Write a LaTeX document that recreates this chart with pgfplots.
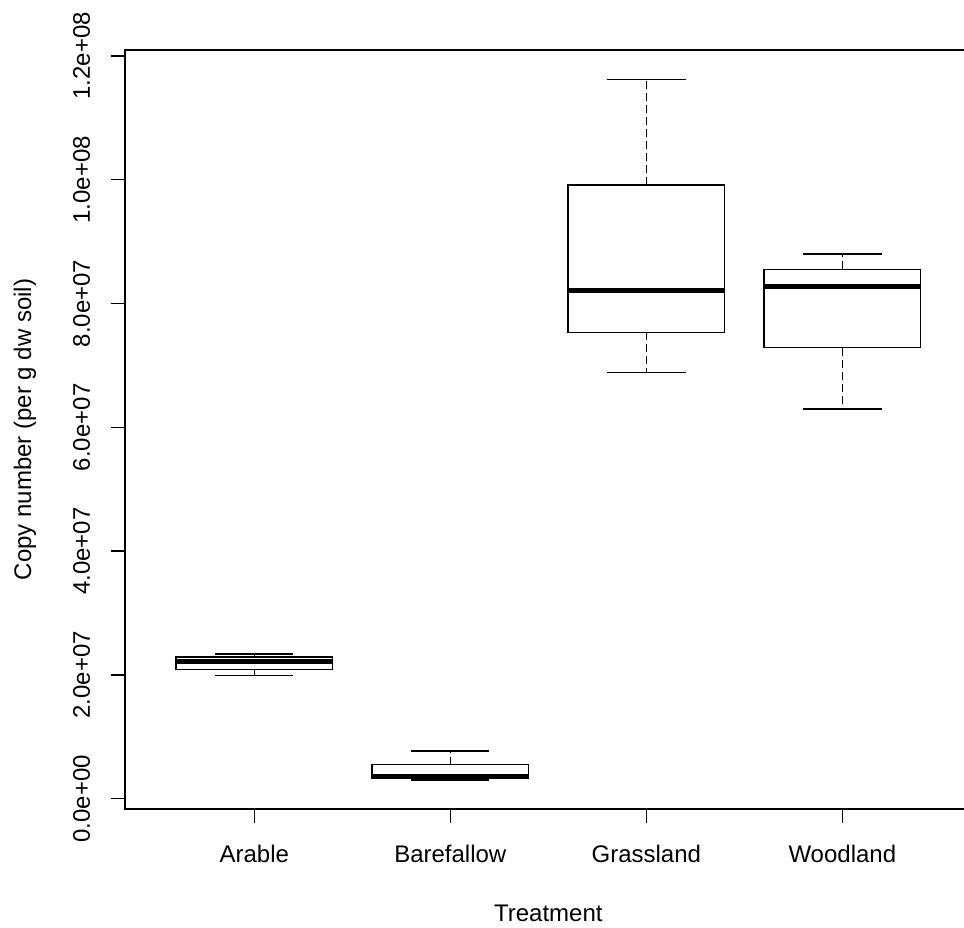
\documentclass[border=0pt]{standalone}
\usepackage{pgfplots}
\pgfplotsset{compat=1.18}
\usepgfplotslibrary{statistics}
\usepackage{fontspec}
\setmainfont{Liberation Sans}
\begin{document}
\begin{tikzpicture}[font=\fontsize{12}{14}\selectfont]
\useasboundingbox (-62.45pt,-59pt) rectangle (419.55pt,404.5pt);
\begin{axis}[
  at={(0,0)}, anchor=south west,
  scale only axis,
  width=423.4pt, height=379.5pt,
  xmin=0.34, xmax=4.66,
  ymin=-0.1664, ymax=12.096,
  xtick={1,2,3,4},
  xticklabels={Arable,Barefallow,Grassland,Woodland},
  ytick={0,2,4,6,8,10,12},
  yticklabels={0.0e+00,2.0e+07,4.0e+07,6.0e+07,8.0e+07,1.0e+08,1.2e+08},
  scaled y ticks=false,
  tick align=outside, tick pos=left,
  major tick length=7pt,
  axis line style={line width=0.75pt},
  every tick/.style={line width=0.75pt, black},
  yticklabel style={rotate=90, anchor=base},
  xticklabel style={anchor=base},
  yticklabel shift=10.45pt,
  xticklabel shift=19.85pt,
  xlabel={Treatment},
  ylabel={Copy number (per g dw soil)},
  every axis x label/.style={at={(axis cs:2.5,-1.976)}, anchor=base},
  every axis y label/.style={at={(axis cs:-0.139,5.965)}, rotate=90, anchor=base},
  boxplot/draw direction=y,
  boxplot/box extend=0.8,
  boxplot/whisker extend=0.4,
  boxplot/every median/.style={line width=2.25pt},
  boxplot/draw/whisker/.code 2 args={
    \draw[black, line width=0.75pt, dash pattern=on 4pt off 2pt]
      (boxplot cs:#1) -- (boxplot cs:#2);
    \draw[black, line width=0.75pt]
      (boxplot whisker cs:#2,0) -- (boxplot whisker cs:#2,1);
  },
]
% values in units of 1e7 copies per g dw soil
\addplot[black, line width=0.75pt, boxplot prepared={draw position=1,
  lower whisker=1.987, lower quartile=2.084, median=2.213,
  upper quartile=2.289, upper whisker=2.338}] coordinates {};
\addplot[black, line width=0.75pt, boxplot prepared={draw position=2,
  lower whisker=0.302, lower quartile=0.323, median=0.355,
  upper quartile=0.549, upper whisker=0.771}] coordinates {};
\addplot[black, line width=0.75pt, boxplot prepared={draw position=3,
  lower whisker=6.889, lower quartile=7.535, median=8.207,
  upper quartile=9.914, upper whisker=11.622}] coordinates {};
\addplot[black, line width=0.75pt, boxplot prepared={draw position=4,
  lower whisker=6.296, lower quartile=7.286, median=8.278,
  upper quartile=8.553, upper whisker=8.800}] coordinates {};
\end{axis}
\end{tikzpicture}
\end{document}
